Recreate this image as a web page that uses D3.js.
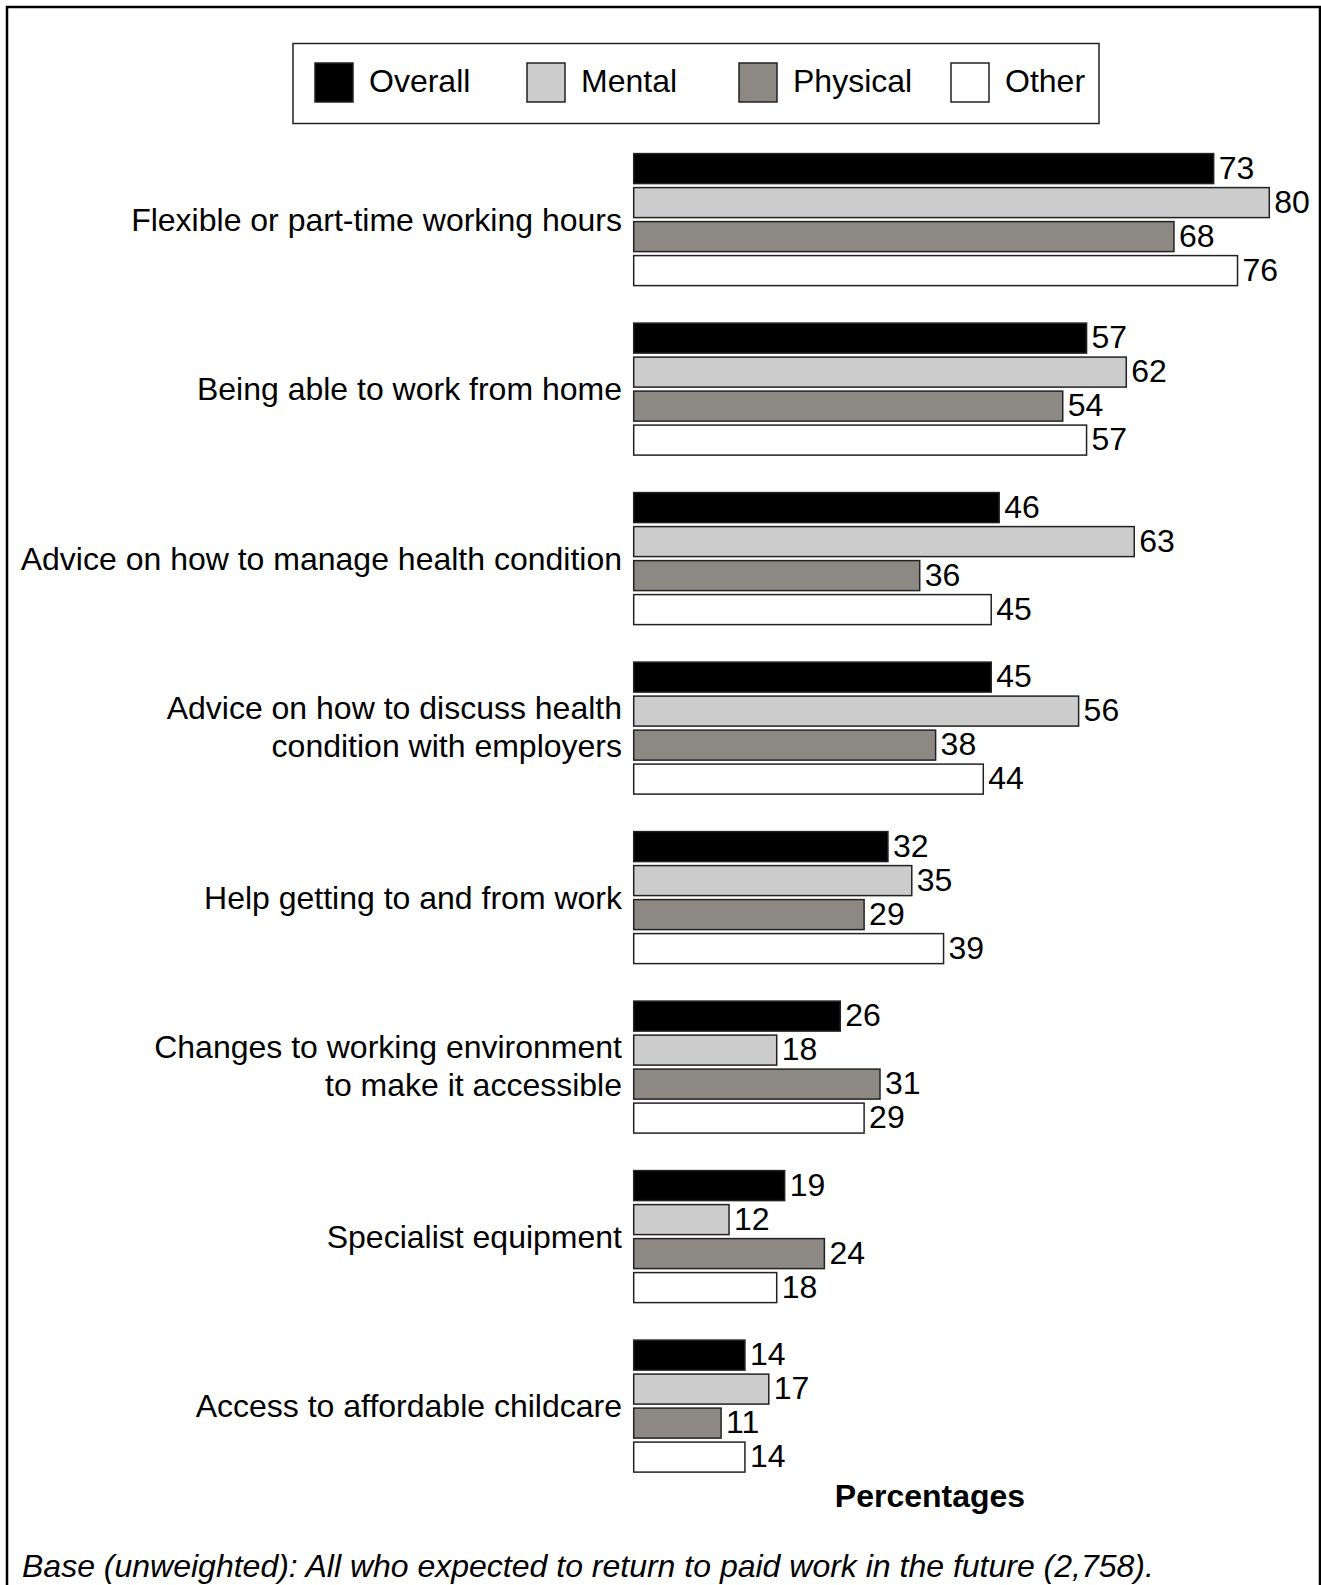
<!DOCTYPE html>
<html>
<head>
<meta charset="utf-8">
<script src="https://cdn.jsdelivr.net/npm/d3@7"></script>
<style>
  html, body { margin: 0; padding: 0; background: #fff; }
  svg { display: block; }
  text { font-family: "Liberation Sans", Arial, sans-serif; fill: #000; }
</style>
</head>
<body>
<svg id="chart" width="1321" height="1585"></svg>
<script>
const categories = [
  ["Flexible or part-time working hours"],
  ["Being able to work from home"],
  ["Advice on how to manage health condition"],
  ["Advice on how to discuss health", "condition with employers"],
  ["Help getting to and from work"],
  ["Changes to working environment", "to make it accessible"],
  ["Specialist equipment"],
  ["Access to affordable childcare"]
];
const seriesNames = ["Overall", "Mental", "Physical", "Other"];
const seriesColors = ["#000000", "#cccccc", "#8c8884", "#ffffff"];
const overall  = [73, 57, 46, 45, 32, 26, 19, 14];
const mental   = [80, 62, 63, 56, 35, 18, 12, 17];
const physical = [68, 54, 36, 38, 29, 31, 24, 11];
const other    = [76, 57, 45, 44, 39, 29, 18, 14];
const seriesValues = [overall, mental, physical, other];
const axisTitle = "Percentages";
const footnote = "Base (unweighted): All who expected to return to paid work in the future (2,758).";

const svg = d3.select("#chart");
const FS = 32;

// frame (open at bottom)
svg.append("path")
  .attr("d", "M7,1590 L7,7 L1320,7 L1320,1590")
  .attr("fill", "none").attr("stroke", "#000").attr("stroke-width", 2.5);

const catKeys = categories.map((c, i) => i);
const x = d3.scaleLinear().domain([0, 100]).range([633.7, 633.7 + 794.5]);
const y0 = d3.scaleBand().domain(catKeys).range([153.6, 1476.1]).paddingInner(1 - 136 / 169.5).paddingOuter(0);
const y1 = d3.scaleBand().domain(seriesNames).range([0, 132]).paddingInner(4 / 34).paddingOuter(0);
const color = d3.scaleOrdinal().domain(seriesNames).range(seriesColors);

const groups = svg.append("g").selectAll("g")
  .data(catKeys).join("g")
  .attr("transform", i => `translate(0,${y0(i)})`);

groups.selectAll("rect")
  .data(i => seriesNames.map((s, k) => ({ s, v: seriesValues[k][i] })))
  .join("rect")
  .attr("x", x(0))
  .attr("y", d => y1(d.s))
  .attr("width", d => x(d.v) - x(0))
  .attr("height", y1.bandwidth())
  .attr("fill", d => color(d.s))
  .attr("stroke", "#222")
  .attr("stroke-width", 1.5);

groups.selectAll("text.val")
  .data(i => seriesNames.map((s, k) => ({ s, v: seriesValues[k][i] })))
  .join("text")
  .attr("class", "val")
  .attr("x", d => x(d.v) + 5)
  .attr("y", d => y1(d.s) + y1.bandwidth() / 2 - 1)
  .attr("dy", "0.35em")
  .attr("font-size", FS)
  .text(d => d.v);

// category labels
groups.each(function (i) {
  const lines = categories[i];
  const cy = 66;
  const lh = 38.4;
  const t = d3.select(this).append("text")
    .attr("text-anchor", "end")
    .attr("font-size", FS);
  lines.forEach((ln, j) => {
    t.append("tspan")
      .attr("x", 622)
      .attr("y", cy + (j - (lines.length - 1) / 2) * lh - (lines.length > 1 ? 1 : 0))
      .attr("dy", "0.35em")
      .text(ln);
  });
});

// legend
const lg = svg.append("g");
lg.append("rect").attr("x", 293).attr("y", 43.5).attr("width", 806).attr("height", 80)
  .attr("fill", "#fff").attr("stroke", "#222").attr("stroke-width", 1.5);
const lx = d3.scalePoint().domain(seriesNames).range([315, 315 + 3 * 212]);
const li = lg.selectAll("g.li").data(seriesNames).join("g")
  .attr("transform", d => `translate(${lx(d)},0)`);
li.append("rect").attr("x", 0).attr("y", 63).attr("width", 38).attr("height", 39)
  .attr("fill", d => color(d)).attr("stroke", "#222").attr("stroke-width", 1.5);
li.append("text").attr("x", 54).attr("y", 81).attr("dy", "0.35em")
  .attr("font-size", FS).text(d => d);

// axis title
svg.append("text").attr("x", 930).attr("y", 1496).attr("dy", "0.35em")
  .attr("text-anchor", "middle").attr("font-size", FS).attr("font-weight", "bold")
  .text(axisTitle);

// footnote
svg.append("text").attr("x", 22).attr("y", 1566).attr("dy", "0.35em")
  .attr("font-size", FS).attr("font-style", "italic")
  .text(footnote);
</script>
</body>
</html>
